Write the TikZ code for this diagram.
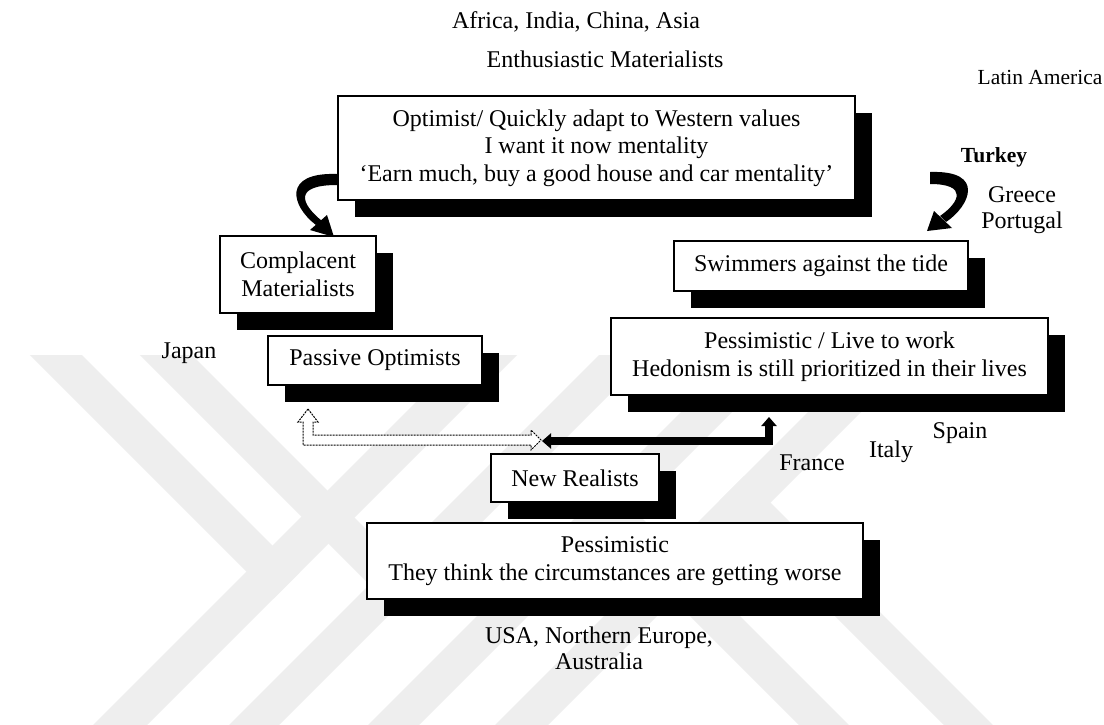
\documentclass[tikz,border=0pt]{standalone}
\usepackage{fontspec}
\setmainfont{Liberation Serif}
\usetikzlibrary{arrows.meta,shadows}
\definecolor{wmgray}{RGB}{238,238,238}
\tikzset{
  box/.style={draw=black, line width=1.8pt, fill=white, inner sep=0pt,
    align=center, font=\fontsize{24}{27.5}\selectfont,
    general shadow={fill=black, shadow xshift=17pt, shadow yshift=-17pt}},
  lbl/.style={inner sep=0pt, align=center, font=\fontsize{24}{26}\selectfont},
  smalllbl/.style={inner sep=0pt, font=\fontsize{21.5}{24}\selectfont},
  band/.style={fill=wmgray},
  hollowarrow/.style={draw=black, line width=1pt, dash pattern=on 2pt off 1pt, fill=white},
  solidarrow/.style={draw=black, line width=7.5pt,
    {Triangle[length=9pt,width=15pt]}-{Triangle[length=9pt,width=15pt]}},
}
\begin{document}
\begin{tikzpicture}[x=1pt,y=-1pt]
\useasboundingbox (0,0) rectangle (1104,724);
\fill[white] (0,0) rectangle (1104,724);

% faint striped emblem in the background
\begin{scope}
  \clip (0,355) rectangle (1104,724);
  \fill[band] (78,740) -- (132,740) -- (532,340) -- (478,340) -- cycle;
  \fill[band] (214,740) -- (264,740) -- (664,340) -- (614,340) -- cycle;
  \fill[band] (353,740) -- (404,740) -- (804,340) -- (753,340) -- cycle;
  \fill[band] (480,740) -- (533,740) -- (933,340) -- (880,340) -- cycle;
  \fill[band] (15,340) -- (67,340) -- (299.5,572.5) -- (273.5,598.5) -- cycle;
  \fill[band] (125,340) -- (177,340) -- (420.5,583.5) -- (394.5,609.5) -- cycle;
  \fill[band] (583.5,509.5) -- (608.5,484.5) -- (864,740) -- (814,740) -- cycle;
  \fill[band] (719.5,500.5) -- (744,476) -- (1008,740) -- (959,740) -- cycle;
\end{scope}

% free labels
\node[lbl] (asia) at (576,22) {Africa, India, China, Asia};
\node[lbl] (enth) at (605,59) {Enthusiastic Materialists};
\node[smalllbl] (latam) at (1040,77) {Latin America};
\node[smalllbl, font=\fontsize{21.5}{24}\selectfont\bfseries] (turkey) at (994,157) {Turkey};
\node[lbl] (greece) at (1022,210) {Greece\\Portugal};
\node[lbl] (japan) at (189,353) {Japan};
\node[lbl] (spain) at (960,433) {Spain};
\node[lbl] (italy) at (891,452) {Italy};
\node[lbl] (france) at (812,463) {France};
\node[lbl] (usa) at (599,648) {USA, Northern Europe,\\Australia};

% boxes
\node[box, minimum width=517pt, minimum height=104pt] (top) at (596.5,148)
  {Optimist/ Quickly adapt to Western values\\I want it now mentality\\‘Earn much, buy a good house and car mentality’};
\node[box, minimum width=156pt, minimum height=77pt] (compl) at (298,274.5)
  {Complacent\\Materialists};
\node[box, minimum width=214pt, minimum height=49pt] (passive) at (375,360.5)
  {Passive Optimists};
\node[box, minimum width=294pt, minimum height=50pt] (swim) at (821,266)
  {Swimmers against the tide};
\node[box, minimum width=437pt, minimum height=77pt] (live) at (829.5,356.5)
  {Pessimistic / Live to work\\Hedonism is still prioritized in their lives};
\node[box, minimum width=168pt, minimum height=48pt] (newreal) at (575,478)
  {New Realists};
\node[box, minimum width=496pt, minimum height=76pt] (worse) at (615,561)
  {Pessimistic\\They think the circumstances are getting worse};

% curved arrow: top box to Complacent Materialists
\fill (337,174) .. controls (282,172) and (291,206) .. (316,225)
  -- (322,221) .. controls (300,203) and (294,185) .. (337,185) -- cycle;
\fill (310,230) -- (327,215) -- (334,237) -- cycle;

% curved arrow: Turkey towards Swimmers against the tide
\fill (930,172) .. controls (987,170) and (969,207) .. (946,222)
  -- (940,216) .. controls (960,202) and (968,184) .. (930,184) -- cycle;
\fill (934,211) -- (952,228) -- (927,231) -- cycle;

% hollow dashed double arrow between Passive Optimists and New Realists
\coordinate (passiveIn) at (308,409);
\coordinate (hollowTip) at (541,440);
\draw[hollowarrow] (passiveIn) -- (318,422) -- (313,422) -- (313,435)
  -- (531,435) -- (531,430) -- (hollowTip) -- (531,450) -- (531,445)
  -- (303,445) -- (303,422) -- (298,422) -- cycle;

% solid double arrow towards the Live to work box
\coordinate (solidL) at (542,441);
\coordinate (liveIn) at (769,417);
\draw[solidarrow] (solidL) -| (liveIn);
\end{tikzpicture}
\end{document}
